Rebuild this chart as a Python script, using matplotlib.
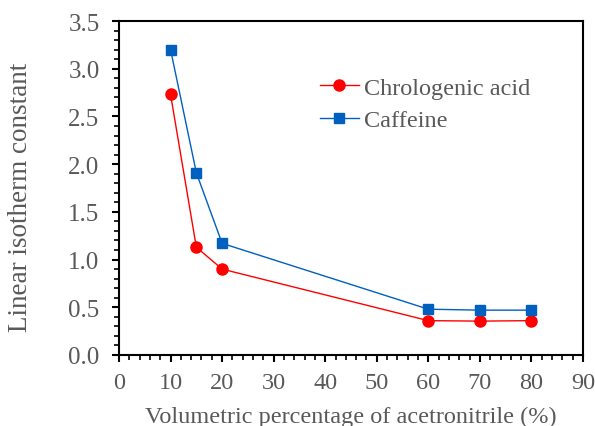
import matplotlib.pyplot as plt
from matplotlib.ticker import MultipleLocator

# data
acetonitrile = [10, 15, 20, 60, 70, 80]
chlorogenic = [2.73, 1.13, 0.90, 0.36, 0.355, 0.36]
caffeine = [3.20, 1.91, 1.17, 0.48, 0.47, 0.47]

plt.rcParams['font.family'] = ['Liberation Serif', 'DejaVu Serif']
grey = '#595959'

fig = plt.figure(figsize=(5.95, 4.27), dpi=100)
ax = fig.add_axes([119 / 595, 1 - 356 / 427, 464 / 595, 334 / 427])

ax.plot(acetonitrile, chlorogenic, color='#FF0000', marker='o', markersize=8,
        linewidth=1, label='Chrologenic acid')
ax.plot(acetonitrile, caffeine, color='#0060C0', marker='s', markersize=7.5,
        linewidth=1, label='Caffeine')

ax.set_xlim(0, 90)
ax.set_ylim(0, 3.5)
ax.xaxis.set_major_locator(MultipleLocator(10))
ax.xaxis.set_minor_locator(MultipleLocator(2))
ax.yaxis.set_major_locator(MultipleLocator(0.5))
ax.yaxis.set_minor_locator(MultipleLocator(0.1))
ax.yaxis.set_major_formatter(plt.FuncFormatter(lambda v, p: f'{v:.1f}'))

ax.tick_params(which='major', direction='out', length=5, width=1.5,
               labelcolor=grey)
ax.tick_params(which='minor', direction='out', length=3.5, width=1.2)
ax.tick_params(axis='y', which='major', labelsize=18, pad=9)
ax.tick_params(axis='x', which='major', labelsize=17.5, pad=7)
for s in ax.spines.values():
    s.set_linewidth(1.5)
    s.set_color('black')

ax.set_xlabel('Volumetric percentage of acetronitrile (%)', fontsize=17.5, color=grey)
ax.set_ylabel('Linear isotherm constant', fontsize=19.5, color=grey)
ax.xaxis.set_label_coords(0.5, -0.183)
ax.xaxis.label.set_va('center')
ax.yaxis.set_label_coords(-0.213, 0.476)
ax.yaxis.label.set_va('center')

leg = ax.legend(loc='upper left', bbox_to_anchor=(0.433, 0.833), frameon=False,
                fontsize=17.5, labelcolor=grey, handlelength=1.6, handletextpad=0.2,
                labelspacing=0.42, borderpad=0, borderaxespad=0)

plt.savefig('out.png', dpi=100)
